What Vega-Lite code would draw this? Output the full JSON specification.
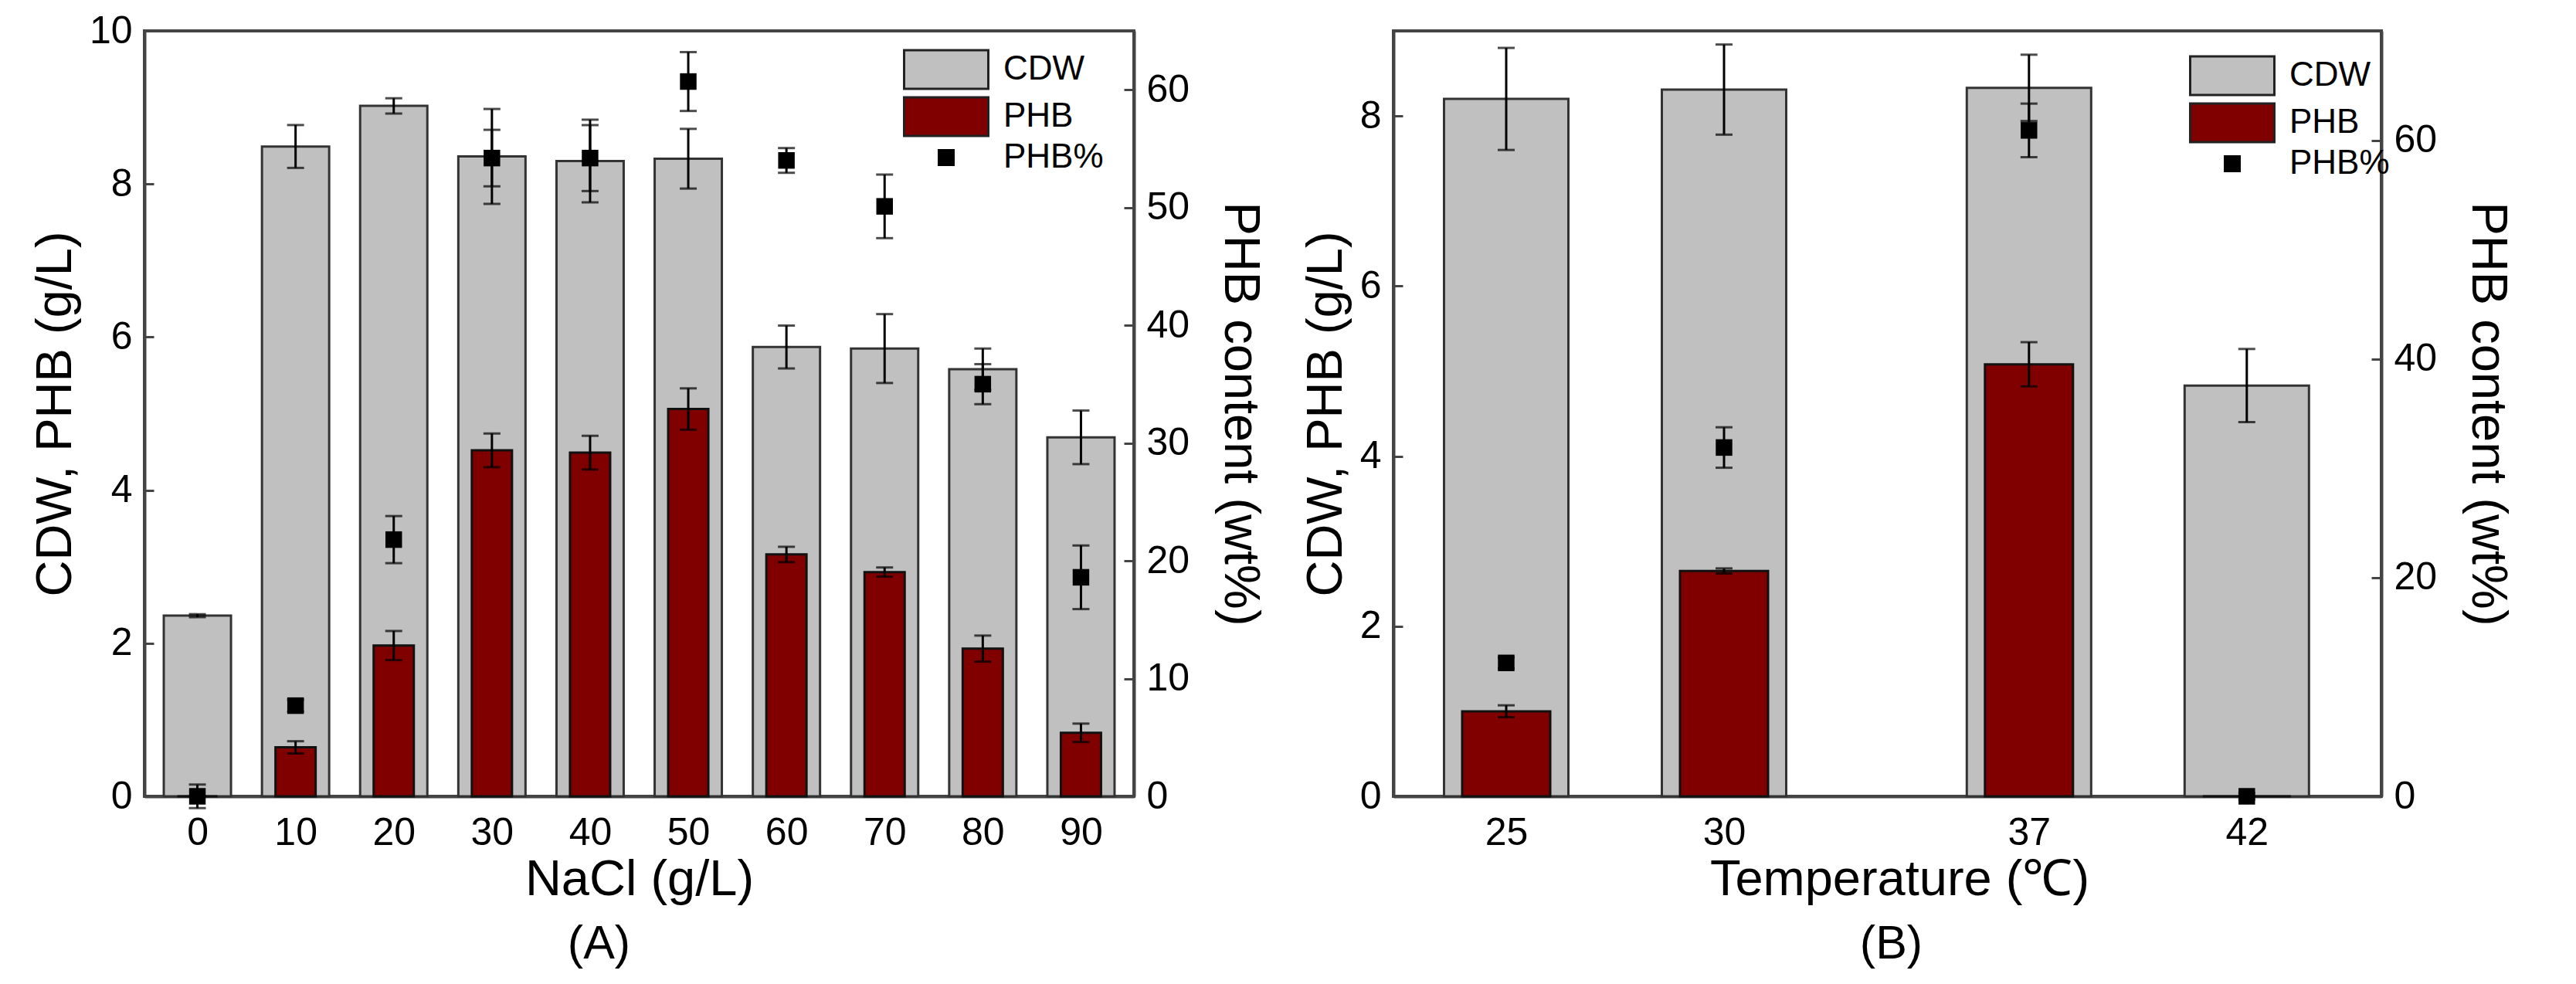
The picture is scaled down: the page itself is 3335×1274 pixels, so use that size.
{
  "$schema": "https://vega.github.io/schema/vega-lite/v6.json",
  "padding": {"left": 37, "top": 13, "right": 5, "bottom": 5},
  "background": "white",
  "datasets": {
    "nacl": [
      {"nacl": 0, "cdw": 2.36, "cdw_err": 0.02, "phb": 0, "phb_err": 0, "pct": 0, "pct_err": 1.0},
      {"nacl": 10, "cdw": 8.49, "cdw_err": 0.28, "phb": 0.64, "phb_err": 0.08, "pct": 7.7, "pct_err": 0.5},
      {"nacl": 20, "cdw": 9.02, "cdw_err": 0.10, "phb": 1.97, "phb_err": 0.19, "pct": 21.8, "pct_err": 2.0},
      {"nacl": 30, "cdw": 8.36, "cdw_err": 0.62, "phb": 4.52, "phb_err": 0.22, "pct": 54.2, "pct_err": 2.4},
      {"nacl": 40, "cdw": 8.30, "cdw_err": 0.54, "phb": 4.49, "phb_err": 0.22, "pct": 54.2, "pct_err": 2.8},
      {"nacl": 50, "cdw": 8.33, "cdw_err": 0.39, "phb": 5.06, "phb_err": 0.27, "pct": 60.7, "pct_err": 2.5},
      {"nacl": 60, "cdw": 5.87, "cdw_err": 0.28, "phb": 3.16, "phb_err": 0.10, "pct": 54.0, "pct_err": 1.05},
      {"nacl": 70, "cdw": 5.85, "cdw_err": 0.45, "phb": 2.93, "phb_err": 0.06, "pct": 50.1, "pct_err": 2.7},
      {"nacl": 80, "cdw": 5.58, "cdw_err": 0.27, "phb": 1.93, "phb_err": 0.17, "pct": 35.0, "pct_err": 1.7},
      {"nacl": 90, "cdw": 4.69, "cdw_err": 0.35, "phb": 0.83, "phb_err": 0.12, "pct": 18.6, "pct_err": 2.7}
    ],
    "temp": [
      {"temp": 25, "cdw": 8.20, "cdw_err": 0.60, "phb": 1.00, "phb_err": 0.07, "pct": 12.2, "pct_err": 0.5},
      {"temp": 30, "cdw": 8.31, "cdw_err": 0.53, "phb": 2.65, "phb_err": 0.03, "pct": 31.9, "pct_err": 1.85},
      {"temp": 37, "cdw": 8.33, "cdw_err": 0.39, "phb": 5.08, "phb_err": 0.26, "pct": 60.9, "pct_err": 2.45},
      {"temp": 42, "cdw": 4.83, "cdw_err": 0.43, "phb": 0, "phb_err": 0, "pct": 0, "pct_err": 0.3}
    ]
  },
  "spacing": 42,
  "hconcat": [
    {
      "width": 1281,
      "height": 991,
      "data": {"name": "nacl"},
      "title": {"text": "(A)", "orient": "bottom", "fontSize": 61, "fontWeight": "normal", "dx": -52, "offset": 22, "anchor": "middle", "color": "black", "font": "Liberation Sans"},
      "encoding": {
        "x": {"field": "nacl", "type": "quantitative", "scale": {"domain": [-5, 95], "nice": false, "zero": false}, "axis": {"values": [0, 10, 20, 30, 40, 50, 60, 70, 80, 90], "title": "NaCl (g/L)"}}
      },
      "layer": [
        {
          "layer": [
            {
              "mark": {"type": "bar", "width": 87, "stroke": "#333333", "strokeWidth": 3},
              "encoding": {
                "y": {"field": "cdw", "type": "quantitative", "scale": {"domain": [0, 10], "nice": false}, "axis": {"values": [0, 2, 4, 6, 8, 10], "format": "d"}, "title": "CDW, PHB (g/L)"},
                "color": {"datum": "CDW", "type": "nominal", "scale": {"domain": ["CDW", "PHB", "PHB%"], "range": ["#c0c0c0", "#800000", "#000000"]},
                  "legend": {"title": null, "orient": "none", "legendX": 1050, "legendY": 28, "encode": {"symbols": {"update": {"shape": {"signal": "datum.value === 'PHB%' ? 'M-1.8,-0.44H-0.92V0.44H-1.8Z' : 'M-3.54,-1H0.82V1H-3.54Z'"}, "stroke": {"value": "#222222"}, "strokeWidth": {"signal": "datum.value === 'PHB%' ? 0 : 3"}, "opacity": {"value": 1}, "fillOpacity": {"value": 1}}}}}}
              }
            },
            {
              "mark": {"type": "bar", "width": 52, "stroke": "#111111", "strokeWidth": 3},
              "encoding": {
                "y": {"field": "phb", "type": "quantitative", "scale": {"domain": [0, 10], "nice": false}, "axis": {"values": [0, 2, 4, 6, 8, 10], "format": "d"}, "title": "CDW, PHB (g/L)"},
                "color": {"datum": "PHB", "type": "nominal", "scale": {"domain": ["CDW", "PHB", "PHB%"], "range": ["#c0c0c0", "#800000", "#000000"]},
                  "legend": {"title": null, "orient": "none", "legendX": 1050, "legendY": 28, "encode": {"symbols": {"update": {"shape": {"signal": "datum.value === 'PHB%' ? 'M-1.8,-0.44H-0.92V0.44H-1.8Z' : 'M-3.54,-1H0.82V1H-3.54Z'"}, "stroke": {"value": "#222222"}, "strokeWidth": {"signal": "datum.value === 'PHB%' ? 0 : 3"}, "opacity": {"value": 1}, "fillOpacity": {"value": 1}}}}}}
              }
            },
            {
              "mark": {"type": "errorbar", "ticks": true, "color": "black", "thickness": 3, "size": 22},
              "encoding": {
                "y": {"field": "cdw", "type": "quantitative", "scale": {"domain": [0, 10], "nice": false}, "axis": {"values": [0, 2, 4, 6, 8, 10], "format": "d"}, "title": "CDW, PHB (g/L)"},
                "yError": {"field": "cdw_err"}
              }
            },
            {
              "mark": {"type": "errorbar", "ticks": true, "color": "black", "thickness": 3, "size": 22},
              "encoding": {
                "y": {"field": "phb", "type": "quantitative", "scale": {"domain": [0, 10], "nice": false}, "axis": {"values": [0, 2, 4, 6, 8, 10], "format": "d"}, "title": "CDW, PHB (g/L)"},
                "yError": {"field": "phb_err"}
              }
            }
          ]
        },
        {
          "layer": [
            {
              "mark": {"type": "errorbar", "ticks": true, "color": "black", "thickness": 3, "size": 22},
              "encoding": {
                "y": {"field": "pct", "type": "quantitative", "scale": {"domain": [0, 65], "nice": false}, "axis": {"orient": "right", "values": [0, 10, 20, 30, 40, 50, 60], "format": "d"}, "title": "PHB content (wt%)"},
                "yError": {"field": "pct_err"}
              }
            },
            {
              "mark": {"type": "point", "shape": "square", "filled": true, "size": 460, "opacity": 1, "strokeWidth": 0},
              "encoding": {
                "y": {"field": "pct", "type": "quantitative", "scale": {"domain": [0, 65], "nice": false}, "axis": {"orient": "right", "values": [0, 10, 20, 30, 40, 50, 60], "format": "d"}, "title": "PHB content (wt%)"},
                "color": {"datum": "PHB%", "type": "nominal", "scale": {"domain": ["CDW", "PHB", "PHB%"], "range": ["#c0c0c0", "#800000", "#000000"]},
                  "legend": {"title": null, "orient": "none", "legendX": 1050, "legendY": 28, "encode": {"symbols": {"update": {"shape": {"signal": "datum.value === 'PHB%' ? 'M-1.8,-0.44H-0.92V0.44H-1.8Z' : 'M-3.54,-1H0.82V1H-3.54Z'"}, "stroke": {"value": "#222222"}, "strokeWidth": {"signal": "datum.value === 'PHB%' ? 0 : 3"}, "opacity": {"value": 1}, "fillOpacity": {"value": 1}}}}}}
              }
            }
          ]
        }
      ],
      "resolve": {"scale": {"y": "independent"}}
    },
    {
      "width": 1279,
      "height": 991,
      "data": {"name": "temp"},
      "title": {"text": "(B)", "orient": "bottom", "fontSize": 61, "fontWeight": "normal", "dx": 5, "offset": 22, "anchor": "middle", "color": "black", "font": "Liberation Sans"},
      "encoding": {
        "x": {"field": "temp", "type": "quantitative", "scale": {"domain": [22.5, 45], "nice": false, "zero": false}, "axis": {"values": [25, 30, 37, 42], "title": "Temperature (℃)", "titleX": 655}}
      },
      "layer": [
        {
          "layer": [
            {
              "mark": {"type": "bar", "width": 161, "stroke": "#333333", "strokeWidth": 3},
              "encoding": {
                "y": {"field": "cdw", "type": "quantitative", "scale": {"domain": [0, 9], "nice": false}, "axis": {"values": [0, 2, 4, 6, 8], "format": "d"}, "title": "CDW, PHB (g/L)"},
                "color": {"datum": "CDW", "type": "nominal", "scale": {"domain": ["CDW", "PHB", "PHB%"], "range": ["#c0c0c0", "#800000", "#000000"]},
                  "legend": {"title": null, "orient": "none", "legendX": 1098, "legendY": 36, "encode": {"symbols": {"update": {"shape": {"signal": "datum.value === 'PHB%' ? 'M-1.8,-0.44H-0.92V0.44H-1.8Z' : 'M-3.54,-1H0.82V1H-3.54Z'"}, "stroke": {"value": "#222222"}, "strokeWidth": {"signal": "datum.value === 'PHB%' ? 0 : 3"}, "opacity": {"value": 1}, "fillOpacity": {"value": 1}}}}}}
              }
            },
            {
              "mark": {"type": "bar", "width": 114, "stroke": "#111111", "strokeWidth": 3},
              "encoding": {
                "y": {"field": "phb", "type": "quantitative", "scale": {"domain": [0, 9], "nice": false}, "axis": {"values": [0, 2, 4, 6, 8], "format": "d"}, "title": "CDW, PHB (g/L)"},
                "color": {"datum": "PHB", "type": "nominal", "scale": {"domain": ["CDW", "PHB", "PHB%"], "range": ["#c0c0c0", "#800000", "#000000"]},
                  "legend": {"title": null, "orient": "none", "legendX": 1098, "legendY": 36, "encode": {"symbols": {"update": {"shape": {"signal": "datum.value === 'PHB%' ? 'M-1.8,-0.44H-0.92V0.44H-1.8Z' : 'M-3.54,-1H0.82V1H-3.54Z'"}, "stroke": {"value": "#222222"}, "strokeWidth": {"signal": "datum.value === 'PHB%' ? 0 : 3"}, "opacity": {"value": 1}, "fillOpacity": {"value": 1}}}}}}
              }
            },
            {
              "mark": {"type": "errorbar", "ticks": true, "color": "black", "thickness": 3, "size": 22},
              "encoding": {
                "y": {"field": "cdw", "type": "quantitative", "scale": {"domain": [0, 9], "nice": false}, "axis": {"values": [0, 2, 4, 6, 8], "format": "d"}, "title": "CDW, PHB (g/L)"},
                "yError": {"field": "cdw_err"}
              }
            },
            {
              "mark": {"type": "errorbar", "ticks": true, "color": "black", "thickness": 3, "size": 22},
              "encoding": {
                "y": {"field": "phb", "type": "quantitative", "scale": {"domain": [0, 9], "nice": false}, "axis": {"values": [0, 2, 4, 6, 8], "format": "d"}, "title": "CDW, PHB (g/L)"},
                "yError": {"field": "phb_err"}
              }
            }
          ]
        },
        {
          "layer": [
            {
              "mark": {"type": "errorbar", "ticks": true, "color": "black", "thickness": 3, "size": 22},
              "encoding": {
                "y": {"field": "pct", "type": "quantitative", "scale": {"domain": [0, 70], "nice": false}, "axis": {"orient": "right", "values": [0, 20, 40, 60], "format": "d"}, "title": "PHB content (wt%)"},
                "yError": {"field": "pct_err"}
              }
            },
            {
              "mark": {"type": "point", "shape": "square", "filled": true, "size": 460, "opacity": 1, "strokeWidth": 0},
              "encoding": {
                "y": {"field": "pct", "type": "quantitative", "scale": {"domain": [0, 70], "nice": false}, "axis": {"orient": "right", "values": [0, 20, 40, 60], "format": "d"}, "title": "PHB content (wt%)"},
                "color": {"datum": "PHB%", "type": "nominal", "scale": {"domain": ["CDW", "PHB", "PHB%"], "range": ["#c0c0c0", "#800000", "#000000"]},
                  "legend": {"title": null, "orient": "none", "legendX": 1098, "legendY": 36, "encode": {"symbols": {"update": {"shape": {"signal": "datum.value === 'PHB%' ? 'M-1.8,-0.44H-0.92V0.44H-1.8Z' : 'M-3.54,-1H0.82V1H-3.54Z'"}, "stroke": {"value": "#222222"}, "strokeWidth": {"signal": "datum.value === 'PHB%' ? 0 : 3"}, "opacity": {"value": 1}, "fillOpacity": {"value": 1}}}}}}
              }
            }
          ]
        }
      ],
      "resolve": {"scale": {"y": "independent"}}
    }
  ],
  "resolve": {"scale": {"x": "independent", "y": "independent", "color": "independent"}, "legend": {"color": "independent"}},
  "config": {
    "font": "Liberation Sans",
    "view": {"stroke": "#444444", "strokeWidth": 4},
    "axis": {"grid": false, "domainColor": "#444444", "domainWidth": 4, "tickColor": "#444444", "tickWidth": 3, "labelFontSize": 50, "labelColor": "black", "labelFont": "Liberation Sans", "titleFont": "Liberation Sans", "titleFontSize": 65, "titleFontWeight": "normal", "titleColor": "black", "labelOverlap": false, "labelFlush": false},
    "axisLeft": {"tickSize": -12, "labelPadding": 28, "titlePadding": 10},
    "axisRight": {"tickSize": -13, "labelPadding": 29, "titlePadding": 32},
    "axisBottom": {"tickSize": -18, "labelPadding": 40, "titlePadding": 4},
    "legend": {"labelFontSize": 44, "labelColor": "black", "labelFont": "Liberation Sans", "symbolSize": 2500, "rowPadding": -1, "labelOffset": 18, "symbolStrokeWidth": 3, "symbolStrokeColor": "#222222", "symbolOpacity": 1}
  }
}
